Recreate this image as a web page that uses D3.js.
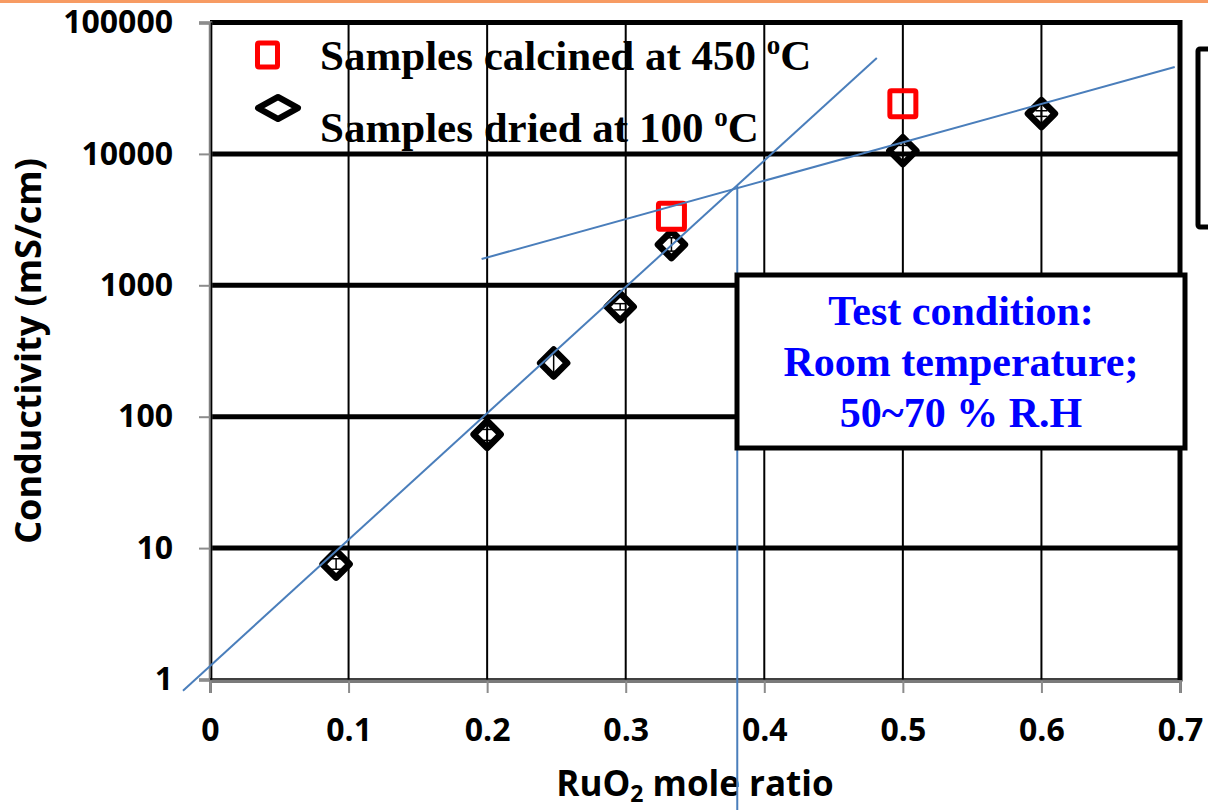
<!DOCTYPE html>
<html>
<head>
<meta charset="utf-8">
<script src="https://cdn.jsdelivr.net/npm/d3@7"></script>
<style>
  html, body { margin: 0; padding: 0; background: #fff; }
  svg { display: block; }
</style>
</head>
<body>
<svg id="chart" width="1208" height="810"></svg>
<script>
// ---------------- data ----------------
const xTicks = [0, 0.1, 0.2, 0.3, 0.4, 0.5, 0.6, 0.7];
const xTickLabels = ["0", "0.1", "0.2", "0.3", "0.4", "0.5", "0.6", "0.7"];
const yTicks = [1, 10, 100, 1000, 10000, 100000];
const yTickLabels = ["1", "10", "100", "1000", "10000", "100000"];

const driedX    = [0.091, 0.2, 0.248, 0.296, 0.333, 0.5, 0.6];
const driedVals = [7.55, 73.4, 256, 686, 2040, 10560, 20250];
const driedLow  = [6.9, 66, 210, 650, 1820, 10000, 19300];
const driedHigh = [8.3, 80, 300, 725, 2300, 11600, 21300];

const calcX    = [0.333, 0.5];
const calcVals = [3355, 24100];

const fitSteepX   = [-0.0195, 0.4812];
const fitSteepY   = [0.822, 53700];
const fitShallowX = [0.196, 0.6962];
const fitShallowY = [1585, 45800];
const dropX = [0.3805, 0.3805];
const dropY = [5760, 0.1];

const legendLabels = ["Samples calcined at 450 ", "Samples dried at 100 "];
const noteLines = ["Test condition:", "Room temperature;", "50~70 % R.H"];
const yTitle = "Conductivity (mS/cm)";

// ---------------- drawing ----------------
const svg = d3.select("#chart");
const W = 1208, H = 810;
svg.append("rect").attr("width", W).attr("height", H).attr("fill", "#fff");
svg.append("rect").attr("x", 0).attr("y", 0).attr("width", W).attr("height", 3).attr("fill", "#F79B63");

const x = d3.scaleLinear().domain([0, 0.7]).range([210, 1180]);
const y = d3.scaleLog().domain([1, 100000]).range([679.5, 22.5]);

const sans = "'Open Sans', 'DejaVu Sans', sans-serif";
const serif = "'Liberation Serif', 'Times New Roman', serif";

// vertical gridlines
const grid = svg.append("g");
grid.selectAll("line.vg").data(xTicks.slice(1, -1)).join("line")
  .attr("x1", d => x(d)).attr("x2", d => x(d))
  .attr("y1", y(100000)).attr("y2", y(1))
  .attr("stroke", "#000").attr("stroke-width", 2);
// horizontal gridlines (thick)
grid.selectAll("line.hg").data(yTicks.slice(1)).join("line")
  .attr("x1", x(0)).attr("x2", x(0.7))
  .attr("y1", d => y(d)).attr("y2", d => y(d))
  .attr("stroke", "#000").attr("stroke-width", 5);
// right border
grid.append("line").attr("x1", x(0.7)).attr("x2", x(0.7))
  .attr("y1", y(100000) - 2.5).attr("y2", y(1) + 2)
  .attr("stroke", "#000").attr("stroke-width", 5);

// axes
const yAxis = d3.axisLeft(y).tickValues(yTicks)
  .tickFormat((d, i) => yTickLabels[i]).tickSize(11).tickPadding(26);
const gy = svg.append("g").attr("transform", `translate(${x(0)},0)`).call(yAxis);
gy.select(".domain").attr("stroke", "#808080").attr("stroke-width", 3.5);
gy.selectAll(".tick line").attr("stroke", "#8c8c8c").attr("stroke-width", 2);
gy.selectAll(".tick text").attr("font-family", sans).attr("font-weight", "bold")
  .attr("font-size", 32).attr("fill", "#000");

const xAxis = d3.axisBottom(x).tickValues(xTicks)
  .tickFormat((d, i) => xTickLabels[i]).tickSize(12).tickPadding(25);
const gx = svg.append("g").attr("transform", `translate(0,${y(1) + 1.5})`).call(xAxis);
gx.select(".domain").attr("stroke", "#7a7a7a").attr("stroke-width", 3);
gx.selectAll(".tick line").attr("stroke", "#8c8c8c").attr("stroke-width", 2);
gx.selectAll(".tick text").attr("font-family", sans).attr("font-weight", "bold")
  .attr("font-size", 32).attr("fill", "#000");
// thin black line for value 1
svg.append("line").attr("x1", x(0)).attr("x2", x(0.7)).attr("y1", y(1) - 0.5).attr("y2", y(1) - 0.5)
  .attr("stroke", "#000").attr("stroke-width", 1.5);
svg.append("line").attr("x1", x(0) + 1.5).attr("x2", x(0) + 1.5).attr("y1", y(100000)).attr("y2", y(1))
  .attr("stroke", "#000").attr("stroke-width", 1.5);

// axis titles
svg.append("text")
  .attr("transform", `translate(41,${(y(1) + y(100000)) / 2}) rotate(-90)`)
  .attr("text-anchor", "middle").attr("font-family", sans).attr("font-weight", "bold")
  .attr("font-size", 36).attr("fill", "#000").text(yTitle);

const xt = svg.append("text").attr("x", (x(0) + x(0.7)) / 2).attr("y", 796)
  .attr("text-anchor", "middle").attr("font-family", sans).attr("font-weight", "bold")
  .attr("font-size", 35).attr("fill", "#000");
xt.append("tspan").text("RuO");
xt.append("tspan").attr("font-size", 23).attr("dy", 6).text("2");
xt.append("tspan").attr("dy", -6).text(" mole ratio");

// diamond path helper
function diamond(cx, cy, hw, hh) {
  return `M${cx},${cy - hh}L${cx + hw},${cy}L${cx},${cy + hh}L${cx - hw},${cy}Z`;
}

// error bars
const eb = svg.append("g").attr("stroke", "#000").attr("stroke-width", 1.5);
driedX.forEach((d, i) => {
  const cx = x(d);
  eb.append("line").attr("x1", cx).attr("x2", cx).attr("y1", y(driedLow[i])).attr("y2", y(driedHigh[i]));
  eb.append("line").attr("x1", cx - 6).attr("x2", cx + 6).attr("y1", y(driedLow[i])).attr("y2", y(driedLow[i]));
  eb.append("line").attr("x1", cx - 6).attr("x2", cx + 6).attr("y1", y(driedHigh[i])).attr("y2", y(driedHigh[i]));
});

// dried diamonds
svg.append("g").selectAll("path").data(driedX).join("path")
  .attr("d", (d, i) => diamond(x(d), y(driedVals[i]), 13.5, 13.5))
  .attr("fill", "none").attr("stroke", "#000").attr("stroke-width", 6.5)
  .attr("stroke-linejoin", "round");

// calcined squares
svg.append("g").selectAll("rect").data(calcX).join("rect")
  .attr("x", d => x(d) - 13).attr("y", (d, i) => y(calcVals[i]) - 13)
  .attr("width", 26).attr("height", 26).attr("rx", 1.5)
  .attr("fill", "none").attr("stroke", "#FF0000").attr("stroke-width", 5);

// fit lines
const lineGen = d3.line().x(d => x(d[0])).y(d => y(d[1]));
const blue = "#4A7EBB";
svg.append("path").datum(fitSteepX.map((d, i) => [d, fitSteepY[i]]))
  .attr("d", lineGen).attr("fill", "none").attr("stroke", blue).attr("stroke-width", 2);
svg.append("path").datum(fitShallowX.map((d, i) => [d, fitShallowY[i]]))
  .attr("d", lineGen).attr("fill", "none").attr("stroke", blue).attr("stroke-width", 2);
svg.append("path").datum(dropX.map((d, i) => [d, dropY[i]]))
  .attr("d", lineGen).attr("fill", "none").attr("stroke", blue).attr("stroke-width", 2);

// legend
const lg = svg.append("g");
lg.append("rect").attr("x", 257.5).attr("y", 43).attr("width", 20).attr("height", 24).attr("rx", 1.5)
  .attr("fill", "none").attr("stroke", "#FF0000").attr("stroke-width", 5);
lg.append("path").attr("d", diamond(278, 108, 20, 11))
  .attr("fill", "none").attr("stroke", "#000").attr("stroke-width", 6)
  .attr("stroke-linejoin", "round");
[70, 142].forEach((by, i) => {
  const t = lg.append("text").attr("x", 320).attr("y", by)
    .attr("font-family", serif).attr("font-weight", "bold").attr("font-size", 43).attr("fill", "#000");
  t.append("tspan").text(legendLabels[i]);
  t.append("tspan").attr("font-size", 27).attr("dy", -16).text("o");
  t.append("tspan").attr("dy", 16).text("C");
});

// note box
const nb = svg.append("g");
nb.append("rect").attr("x", 737).attr("y", 275).attr("width", 448).attr("height", 173)
  .attr("fill", "#fff").attr("stroke", "#000").attr("stroke-width", 5);
nb.selectAll("text").data(noteLines).join("text")
  .attr("x", 961).attr("y", (d, i) => 325 + i * 51)
  .attr("text-anchor", "middle").attr("font-family", serif).attr("font-weight", "bold")
  .attr("font-size", 42).attr("fill", "#0000FF").text(d => d);

// partial box at right edge
svg.append("rect").attr("x", 1198).attr("y", 49).attr("width", 40).attr("height", 178).attr("rx", 2)
  .attr("fill", "#fff").attr("stroke", "#000").attr("stroke-width", 5);
</script>
</body>
</html>
